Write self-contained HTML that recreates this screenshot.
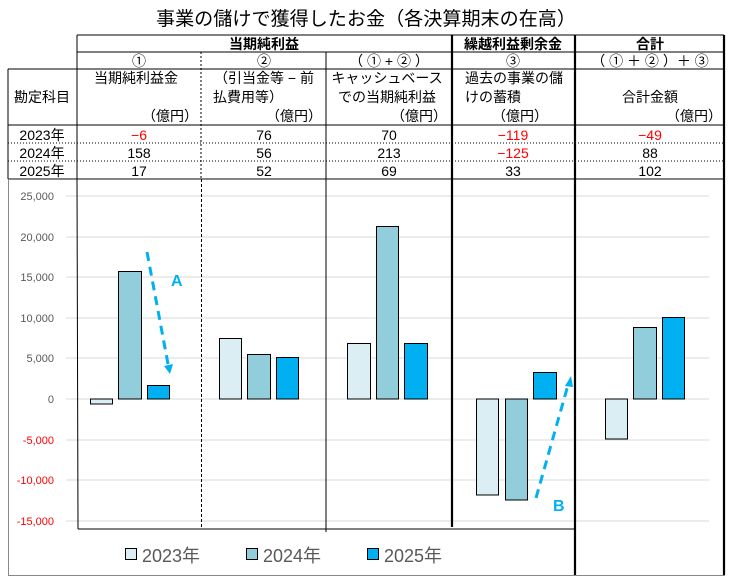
<!DOCTYPE html>
<html><head><meta charset="utf-8"><style>
body{margin:0;background:#fff}
text{font-family:"Liberation Sans","Noto Sans CJK JP",sans-serif}
</style></head><body>
<svg width="731" height="582" xmlns="http://www.w3.org/2000/svg">
<text x="366" y="25" font-size="19" text-anchor="middle" textLength="420" lengthAdjust="spacingAndGlyphs">事業の儲けで獲得したお金（各決算期末の在高）</text>
<g font-size="14" text-anchor="middle" fill="#000">
<g stroke="#000" stroke-width="1" fill="none">
<line x1="77" y1="35" x2="724" y2="35"/>
<line x1="77" y1="52" x2="724" y2="52"/>
<line x1="8" y1="69" x2="724" y2="69"/>
<line x1="8" y1="125" x2="724" y2="125"/>
<line x1="8" y1="179" x2="724" y2="179"/>
<line x1="77" y1="35" x2="77" y2="179"/>
<line x1="8" y1="69" x2="8" y2="179"/>
<line x1="201" y1="52" x2="201" y2="179" stroke-dasharray="2,2"/>
<line x1="326" y1="52" x2="326" y2="179"/>
<line x1="8" y1="143" x2="724" y2="143" stroke-dasharray="1,2"/>
<line x1="8" y1="161" x2="724" y2="161" stroke-dasharray="1,2"/>
</g>
<g stroke="#000" stroke-width="2.2" fill="none">
<line x1="452" y1="35" x2="452" y2="179"/>
<line x1="575" y1="35" x2="575" y2="179"/>
<line x1="724" y1="35" x2="724" y2="179"/>
</g>
<g font-weight="bold">
<text x="264" y="49">当期純利益</text>
<text x="513" y="49">繰越利益剰余金</text>
<text x="650" y="49">合計</text>
</g>
<text x="139" y="66">①</text>
<text x="264" y="66">②</text>
<text x="389" y="66">（ ① + ② ）</text>
<text x="513" y="66">③</text>
<text x="650" y="66">（ ① ＋ ② ）＋ ③</text>
<text x="42" y="102">勘定科目</text>
<text x="136" y="83">当期純利益金</text>
<text x="264" y="83">（引当金等 − 前</text>
<text x="248" y="102">払費用等）</text>
<text x="387" y="83">キャッシュベース</text>
<text x="387" y="102">での当期純利益</text>
<text x="514" y="83">過去の事業の儲</text>
<text x="493" y="102">けの蓄積</text>
<text x="650" y="102">合計金額</text>
<g text-anchor="end">
<text x="198" y="121">（億円）</text>
<text x="322" y="121">（億円）</text>
<text x="447" y="121">（億円）</text>
<text x="548" y="121">（億円）</text>
<text x="722" y="121">（億円）</text>
</g>
<text x="42" y="140">2023年</text>
<text x="42" y="158">2024年</text>
<text x="42" y="176">2025年</text>
<text x="139" y="140" fill="#f00">−6</text><text x="264" y="140">76</text><text x="389" y="140">70</text><text x="513" y="140" fill="#f00">−119</text><text x="650" y="140" fill="#f00">−49</text>
<text x="139" y="158">158</text><text x="264" y="158">56</text><text x="389" y="158">213</text><text x="513" y="158" fill="#f00">−125</text><text x="650" y="158">88</text>
<text x="139" y="176">17</text><text x="264" y="176">52</text><text x="389" y="176">69</text><text x="513" y="176">33</text><text x="650" y="176">102</text>
</g>
<rect x="8.5" y="179.5" width="716" height="396" fill="none" stroke="#888" stroke-width="1"/>
<g stroke="#d9d9d9" stroke-width="1">
<line x1="66" y1="196" x2="709" y2="196"/>
<line x1="66" y1="237" x2="709" y2="237"/>
<line x1="66" y1="277" x2="709" y2="277"/>
<line x1="66" y1="318" x2="709" y2="318"/>
<line x1="66" y1="358" x2="709" y2="358"/>
<line x1="66" y1="399" x2="709" y2="399"/>
<line x1="66" y1="440" x2="709" y2="440"/>
<line x1="66" y1="480" x2="709" y2="480"/>
<line x1="66" y1="521" x2="709" y2="521"/>
</g>
<g font-size="11" fill="#595959" text-anchor="end">
<text x="54" y="200">25,000</text><text x="54" y="241">20,000</text><text x="54" y="281">15,000</text>
<text x="54" y="322">10,000</text><text x="54" y="362">5,000</text><text x="54" y="403">0</text>
<text x="54" y="444" fill="#f00">-5,000</text><text x="54" y="484" fill="#f00">-10,000</text><text x="54" y="525" fill="#f00">-15,000</text>
</g>
<g stroke="#000" stroke-width="1" fill="none">
<line x1="77" y1="179" x2="78" y2="529"/>
<line x1="78" y1="529" x2="575" y2="529"/>
<line x1="201.5" y1="179" x2="201.5" y2="529" stroke-dasharray="3,2"/>
<line x1="326" y1="179" x2="326" y2="532"/>
</g>
<g stroke="#000" stroke-width="2.2">
<line x1="452" y1="179" x2="452" y2="527"/>
<line x1="575" y1="179" x2="575" y2="575"/>
<line x1="724" y1="179" x2="724" y2="575"/>
</g>
<g stroke="#000" stroke-width="1">
<rect x="90.5" y="399" width="22" height="5" fill="#daeef3"/>
<rect x="118.5" y="271.5" width="23" height="127.5" fill="#92cddc"/>
<rect x="147.5" y="385.5" width="22" height="13.5" fill="#00b0f0"/>
<rect x="219.5" y="338.5" width="22" height="60.5" fill="#daeef3"/>
<rect x="247.5" y="354.5" width="23" height="44.5" fill="#92cddc"/>
<rect x="276.5" y="357.5" width="22" height="41.5" fill="#00b0f0"/>
<rect x="347.5" y="343.5" width="23" height="55.5" fill="#daeef3"/>
<rect x="376.5" y="226.5" width="22" height="172.5" fill="#92cddc"/>
<rect x="404.5" y="343.5" width="23" height="55.5" fill="#00b0f0"/>
<rect x="476.5" y="399" width="22" height="96" fill="#daeef3"/>
<rect x="505.5" y="399" width="22" height="101" fill="#92cddc"/>
<rect x="533.5" y="372.5" width="23" height="26.5" fill="#00b0f0"/>
<rect x="605.5" y="399" width="22" height="40" fill="#daeef3"/>
<rect x="633.5" y="327.5" width="23" height="71.5" fill="#92cddc"/>
<rect x="662.5" y="317.5" width="22" height="81.5" fill="#00b0f0"/>
</g>
<g stroke="#00b0f0" stroke-width="3" stroke-dasharray="9,6" fill="none">
<line x1="147" y1="252" x2="168" y2="364"/>
<line x1="536" y1="498" x2="568" y2="385"/>
</g>
<polygon points="164,366 173,364 170,374" fill="#00b0f0"/>
<polygon points="565,386 573,387 571,376" fill="#00b0f0"/>
<g font-size="16" font-weight="bold" fill="#00b0f0">
<text x="171" y="286">A</text><text x="553" y="511">B</text>
</g>
<g font-size="18" fill="#595959">
<rect x="125.5" y="548.5" width="11" height="11" fill="#daeef3" stroke="#000"/>
<text x="142" y="562">2023年</text>
<rect x="246.5" y="548.5" width="11" height="11" fill="#92cddc" stroke="#000"/>
<text x="263" y="562">2024年</text>
<rect x="367.5" y="548.5" width="11" height="11" fill="#00b0f0" stroke="#000"/>
<text x="384" y="562">2025年</text>
</g>
</svg>
</body></html>
